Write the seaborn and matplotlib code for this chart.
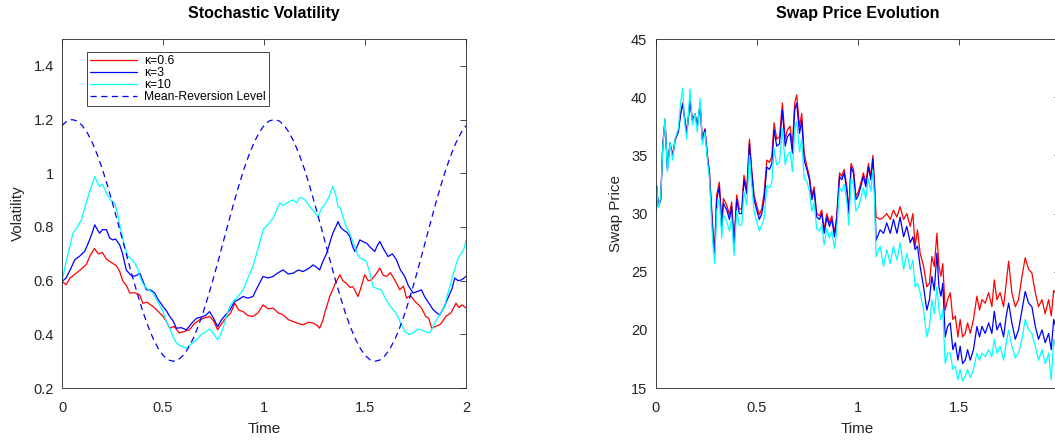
import matplotlib
matplotlib.use("Agg")
import matplotlib.pyplot as plt
import seaborn as sns
from matplotlib.ticker import FuncFormatter

# ---------------- data: left panel (Stochastic Volatility) ----------------
T_RED = [0, 0.02, 0.04, 0.07, 0.09, 0.12, 0.14, 0.16, 0.18, 0.2, 0.22, 0.25, 0.27, 0.285, 0.30, 0.32, 0.335, 0.36,
         0.385, 0.40, 0.42, 0.45, 0.47, 0.5, 0.515, 0.533, 0.555, 0.58, 0.60, 0.63, 0.655, 0.68, 0.70, 0.73, 0.75,
         0.77, 0.79, 0.81, 0.835, 0.855, 0.875, 0.896, 0.92, 0.945, 0.97, 0.995, 1.02, 1.045, 1.07, 1.094, 1.12,
         1.144, 1.17, 1.193, 1.22, 1.243, 1.26, 1.275, 1.29, 1.30, 1.325, 1.35, 1.375, 1.39, 1.408, 1.425, 1.44,
         1.465, 1.48, 1.498, 1.515, 1.531, 1.55, 1.573, 1.59, 1.606, 1.625, 1.647, 1.672, 1.69, 1.705, 1.725, 1.746,
         1.765, 1.779, 1.80, 1.815, 1.83, 1.85, 1.87, 1.885, 1.90, 1.925, 1.95, 1.965, 1.98, 2.0]
V_RED = [0.597, 0.585, 0.61, 0.628, 0.64, 0.66, 0.695, 0.72, 0.70, 0.705, 0.68, 0.665, 0.655, 0.635, 0.60, 0.58, 0.554,
         0.555, 0.547, 0.516, 0.52, 0.504, 0.49, 0.467, 0.45, 0.423, 0.43, 0.405, 0.41, 0.417, 0.44, 0.454, 0.46,
         0.467, 0.45, 0.417, 0.44, 0.46, 0.48, 0.516, 0.49, 0.485, 0.47, 0.467, 0.48, 0.51, 0.495, 0.498, 0.48,
         0.473, 0.455, 0.448, 0.44, 0.436, 0.445, 0.442, 0.435, 0.423, 0.45, 0.479, 0.541, 0.585, 0.622, 0.60, 0.59,
         0.575, 0.578, 0.541, 0.575, 0.622, 0.60, 0.603, 0.62, 0.647, 0.62, 0.616, 0.63, 0.603, 0.566, 0.58, 0.535,
         0.545, 0.523, 0.51, 0.498, 0.467, 0.46, 0.423, 0.43, 0.436, 0.45, 0.467, 0.48, 0.516, 0.50, 0.51, 0.498]

T_BLUE = [0, 0.02, 0.04, 0.063, 0.085, 0.112, 0.13, 0.15, 0.162, 0.175, 0.186, 0.2, 0.22, 0.235, 0.25, 0.265, 0.285,
          0.30, 0.318, 0.335, 0.35, 0.37, 0.385, 0.40, 0.417, 0.44, 0.459, 0.475, 0.5, 0.515, 0.533, 0.55, 0.566,
          0.59, 0.616, 0.64, 0.665, 0.69, 0.71, 0.73, 0.75, 0.77, 0.79, 0.81, 0.83, 0.855, 0.875, 0.896, 0.92, 0.945,
          0.97, 0.995, 1.02, 1.045, 1.07, 1.094, 1.12, 1.144, 1.17, 1.193, 1.22, 1.243, 1.26, 1.275, 1.29, 1.31,
          1.325, 1.34, 1.355, 1.366, 1.378, 1.39, 1.41, 1.424, 1.437, 1.449, 1.462, 1.474, 1.49, 1.507, 1.525, 1.548,
          1.56, 1.573, 1.59, 1.614, 1.635, 1.655, 1.675, 1.696, 1.715, 1.738, 1.76, 1.779, 1.795, 1.81, 1.837, 1.855,
          1.87, 1.89, 1.91, 1.93, 1.944, 1.96, 1.977, 2.0]
V_BLUE = [0.597, 0.61, 0.64, 0.678, 0.69, 0.709, 0.74, 0.78, 0.808, 0.79, 0.777, 0.79, 0.79, 0.76, 0.752, 0.755,
          0.734, 0.70, 0.64, 0.625, 0.616, 0.62, 0.628, 0.60, 0.566, 0.565, 0.554, 0.53, 0.504, 0.49, 0.467, 0.45,
          0.423, 0.425, 0.417, 0.44, 0.46, 0.465, 0.47, 0.485, 0.46, 0.429, 0.455, 0.473, 0.49, 0.523, 0.53, 0.541,
          0.535, 0.541, 0.58, 0.616, 0.61, 0.616, 0.63, 0.64, 0.625, 0.628, 0.64, 0.634, 0.645, 0.659, 0.65, 0.64,
          0.67, 0.702, 0.74, 0.777, 0.80, 0.82, 0.80, 0.79, 0.78, 0.765, 0.73, 0.709, 0.73, 0.752, 0.745, 0.74, 0.725,
          0.709, 0.73, 0.746, 0.72, 0.69, 0.70, 0.678, 0.64, 0.616, 0.58, 0.554, 0.56, 0.566, 0.54, 0.523, 0.492,
          0.48, 0.473, 0.50, 0.535, 0.57, 0.61, 0.60, 0.603, 0.616]

T_CYAN = [0, 0.015, 0.03, 0.054, 0.075, 0.096, 0.112, 0.129, 0.145, 0.162, 0.175, 0.186, 0.2, 0.22, 0.24, 0.26,
          0.275, 0.294, 0.31, 0.327, 0.345, 0.36, 0.375, 0.385, 0.40, 0.41, 0.43, 0.45, 0.475, 0.5, 0.515, 0.533,
          0.55, 0.566, 0.59, 0.616, 0.64, 0.665, 0.69, 0.714, 0.73, 0.748, 0.77, 0.785, 0.797, 0.815, 0.83, 0.845,
          0.863, 0.88, 0.896, 0.92, 0.945, 0.97, 0.995, 1.02, 1.045, 1.06, 1.078, 1.094, 1.11, 1.127, 1.144, 1.16,
          1.177, 1.193, 1.21, 1.226, 1.245, 1.267, 1.285, 1.30, 1.32, 1.34, 1.355, 1.366, 1.378, 1.39, 1.407, 1.424,
          1.437, 1.449, 1.462, 1.474, 1.49, 1.507, 1.523, 1.54, 1.56, 1.58, 1.597, 1.614, 1.63, 1.647, 1.66, 1.672,
          1.685, 1.696, 1.718, 1.738, 1.76, 1.779, 1.80, 1.82, 1.838, 1.853, 1.875, 1.894, 1.905, 1.919, 1.935,
          1.952, 1.965, 1.977, 1.99, 2.0]
V_CYAN = [0.597, 0.653, 0.70, 0.777, 0.80, 0.827, 0.87, 0.914, 0.95, 0.988, 0.965, 0.951, 0.96, 0.926, 0.90, 0.889,
          0.85, 0.777, 0.73, 0.69, 0.68, 0.665, 0.645, 0.616, 0.59, 0.578, 0.565, 0.554, 0.52, 0.485, 0.45, 0.423,
          0.39, 0.368, 0.355, 0.349, 0.365, 0.38, 0.40, 0.411, 0.42, 0.405, 0.38, 0.40, 0.423, 0.47, 0.504, 0.52,
          0.535, 0.55, 0.566, 0.61, 0.653, 0.72, 0.79, 0.81, 0.833, 0.86, 0.889, 0.88, 0.889, 0.895, 0.901, 0.89,
          0.91, 0.907, 0.895, 0.876, 0.86, 0.839, 0.87, 0.883, 0.91, 0.951, 0.92, 0.876, 0.87, 0.839, 0.80, 0.777,
          0.75, 0.727, 0.70, 0.684, 0.68, 0.672, 0.63, 0.578, 0.57, 0.566, 0.54, 0.516, 0.50, 0.485, 0.47, 0.448,
          0.43, 0.411, 0.40, 0.405, 0.42, 0.417, 0.41, 0.405, 0.43, 0.454, 0.48, 0.504, 0.54, 0.578, 0.62, 0.665,
          0.69, 0.702, 0.72, 0.752]

T_LEVEL = [0.0, 0.025, 0.05, 0.075, 0.1, 0.125, 0.15, 0.175, 0.2, 0.225, 0.25, 0.275, 0.3, 0.325, 0.35, 0.375,
           0.4, 0.425, 0.45, 0.475, 0.5, 0.525, 0.55, 0.575, 0.6, 0.625, 0.65, 0.675, 0.7, 0.725, 0.75, 0.775,
           0.8, 0.825, 0.85, 0.875, 0.9, 0.925, 0.95, 0.975, 1.0, 1.025, 1.05, 1.075, 1.1, 1.125, 1.15, 1.175,
           1.2, 1.225, 1.25, 1.275, 1.3, 1.325, 1.35, 1.375, 1.4, 1.425, 1.45, 1.475, 1.5, 1.525, 1.55, 1.575,
           1.6, 1.625, 1.65, 1.675, 1.7, 1.725, 1.75, 1.775, 1.8, 1.825, 1.85, 1.875, 1.9, 1.925, 1.95, 1.975, 2.0]
V_LEVEL = [1.178, 1.195, 1.2, 1.195, 1.178, 1.151, 1.114, 1.068, 1.015, 0.954, 0.889, 0.820, 0.75, 0.680, 0.611,
           0.546, 0.485, 0.432, 0.386, 0.349, 0.322, 0.305, 0.30, 0.305, 0.322, 0.349, 0.386, 0.432, 0.485, 0.546,
           0.611, 0.680, 0.75, 0.820, 0.889, 0.954, 1.015, 1.068, 1.114, 1.151,
           1.178, 1.195, 1.2, 1.195, 1.178, 1.151, 1.114, 1.068, 1.015, 0.954, 0.889, 0.820, 0.75, 0.680, 0.611,
           0.546, 0.485, 0.432, 0.386, 0.349, 0.322, 0.305, 0.30, 0.305, 0.322, 0.349, 0.386, 0.432, 0.485, 0.546,
           0.611, 0.680, 0.75, 0.820, 0.889, 0.954, 1.015, 1.068, 1.114, 1.151, 1.178]

VOL_LABELS = ["\u03ba=0.6", "\u03ba=3", "\u03ba=10", "Mean-Reversion Level"]

# ---------------- data: right panel (Swap Price Evolution) ----------------
T_SWAP = [0.000, 0.005, 0.013, 0.025, 0.035, 0.046, 0.058, 0.071, 0.084, 0.096, 0.112, 0.124, 0.134, 0.142, 0.154,
          0.170, 0.182, 0.195, 0.206, 0.220, 0.231, 0.244, 0.256, 0.266, 0.277, 0.286, 0.292, 0.302, 0.315, 0.327,
          0.335, 0.352, 0.365, 0.376, 0.388, 0.401, 0.414, 0.426, 0.437, 0.451, 0.464, 0.475, 0.487, 0.500, 0.513,
          0.525, 0.537, 0.550, 0.563, 0.575, 0.586, 0.599, 0.613, 0.627, 0.641, 0.652, 0.665, 0.677, 0.688, 0.698,
          0.712, 0.723, 0.735, 0.748, 0.761, 0.773, 0.784, 0.797, 0.811, 0.822, 0.834, 0.847, 0.860, 0.872, 0.885,
          0.896, 0.910, 0.921, 0.933, 0.946, 0.956, 0.967, 0.979, 0.991, 1.002, 1.015, 1.028, 1.040, 1.053, 1.065,
          1.075, 1.083,
          1.091, 1.111, 1.128, 1.144, 1.161, 1.177, 1.194, 1.210, 1.227, 1.243, 1.260, 1.273, 1.284, 1.296, 1.309,
          1.326, 1.342, 1.355, 1.367, 1.379, 1.392, 1.402, 1.412, 1.421, 1.433, 1.445, 1.458, 1.471, 1.483, 1.496,
          1.507, 1.519, 1.532, 1.544, 1.557, 1.573, 1.590, 1.603, 1.615, 1.631, 1.648, 1.664, 1.676, 1.689, 1.705,
          1.722, 1.735, 1.747, 1.763, 1.780, 1.796, 1.813, 1.829, 1.846, 1.862, 1.879, 1.895, 1.912, 1.928, 1.945,
          1.958, 1.970, 1.978, 2.0]
SWAP_RED = [30.1, 32.4, 30.7, 31.3, 35.9, 38.1, 33.9, 36.1, 35.0, 36.4, 37.1, 38.7, 39.5, 38.4, 37.0, 39.7, 38.1,
            38.6, 37.6, 39.4, 36.4, 37.3, 35.0, 33.6,
            30.4, 27.9, 27.0, 31.6, 32.7, 29.3, 31.3, 30.7, 29.9, 31.0, 27.6, 31.6, 30.4, 30.4, 33.3, 32.1, 36.4,
            33.9, 31.6, 30.7, 29.9, 30.4,
            31.8, 34.6, 34.4, 34.9, 37.8, 36.4, 36.6, 39.5, 36.4, 37.2, 37.5, 35.8, 39.5, 40.2, 37.5, 38.6, 35.2,
            34.1, 33.2, 31.5, 32.3, 30.0, 29.8, 30.3, 28.6, 30.0, 29.2, 29.8, 28.3, 29.8, 33.5, 33.2, 33.8, 32.3,
            30.3, 34.3, 33.8, 31.5, 31.8, 32.6, 33.5, 32.6, 34.3, 33.2, 35.0, 32.6,
            29.7, 29.5, 29.7, 30.0, 29.5, 30.3, 29.7, 30.6, 29.5, 30.0, 28.9, 30.0, 27.2, 28.6, 26.6, 25.45, 23.7,
            24.0, 26.3, 25.45, 28.3, 25.45, 24.6, 25.7, 21.7, 22.6, 23.2, 20.9, 21.2, 19.4, 20.9, 19.4, 19.7, 20.6,
            19.7, 20.9, 22.9, 21.7, 22.6, 22.3, 23.2, 22.0, 24.3, 22.6, 23.2, 22.0, 24.0, 25.9, 23.2, 22.0, 22.6,
            24.6, 26.2, 25.2, 24.9, 23.2, 22.0, 22.6, 21.4, 22.6, 21.2, 23.4, 23.2, 23.0]
SWAP_BLUE = [30.0, 32.3, 30.6, 31.2, 35.8, 38.0, 33.8, 36.0, 34.9, 36.3, 37.0, 38.6, 39.4, 38.3, 36.9, 39.6, 38.0,
             38.5, 37.5, 39.3, 36.3, 37.2, 34.9, 33.5,
             30.0, 27.5, 26.6, 31.2, 32.3, 28.9, 30.9, 30.3, 29.5, 30.6, 27.2, 31.2, 30.0, 30.0, 32.9, 31.7, 36.0,
             33.5, 31.2, 30.3, 29.5, 30.0,
             31.2, 34.0, 33.8, 34.3, 37.2, 35.8, 36.0, 38.9, 35.8, 36.6, 36.9, 35.2, 38.9, 39.5, 36.9, 38.0, 34.6,
             33.8, 32.9, 31.2, 32.0, 29.7, 29.5, 30.0, 28.3, 29.7, 28.9, 29.5, 28.0, 29.5, 33.2, 32.9, 33.5, 32.0,
             30.0, 34.0, 33.5, 31.2, 31.5, 32.3, 33.2, 32.3, 34.0, 32.9, 34.75, 32.3,
             27.7, 28.6, 28.3, 29.2, 28.3, 29.5, 28.3, 29.7, 28.0, 28.9, 27.5, 28.0, 26.9, 27.2, 25.45, 23.7, 21.7,
             22.6, 24.6, 23.4, 26.6, 23.7, 22.9, 24.0, 19.4, 20.3, 20.6, 18.3, 18.9, 17.4, 18.6, 17.1, 17.4, 18.3,
             17.4, 18.3, 20.3, 19.4, 20.3, 19.7, 20.6, 19.7, 21.6, 20.0, 20.6, 19.4, 21.2, 22.3, 20.6, 19.2, 20.0,
             21.7, 23.3, 22.3, 22.0, 20.3, 19.2, 20.0, 18.9, 19.7, 18.3, 20.9, 20.4, 20.5]
SWAP_CYAN = [30.0, 32.4, 30.5, 31.4, 35.6, 38.2, 33.6, 36.1, 34.6, 36.4, 37.3, 39.6, 40.8, 38.0, 36.4, 40.7, 37.6,
             38.6, 37.0, 39.9, 35.9, 37.0, 34.6, 33.0,
             29.2, 26.7, 25.7, 30.2, 31.3, 27.9, 29.9, 29.3, 28.5, 29.6, 26.4, 30.2, 29.0, 29.0, 31.9, 30.7, 35.0,
             32.5, 30.2, 29.3, 28.5, 29.0,
             29.6, 32.4, 32.2, 32.7, 35.6, 34.2, 34.4, 37.3, 34.2, 35.0, 35.3, 33.6, 37.3, 37.9, 35.3, 36.4, 33.0,
             32.8, 31.9, 30.2, 31.0, 28.7, 28.5, 29.0, 27.3, 28.7, 27.9, 28.5, 27.0, 28.5, 32.2, 31.9, 32.5, 31.0,
             29.0, 33.0, 32.5, 30.2, 30.5, 31.3, 32.2, 31.3, 33.0, 31.9, 33.75, 31.3,
             26.3, 27.2, 25.45, 26.9, 25.7, 27.2, 26.0, 27.5, 25.2, 26.6, 25.2, 26.0, 23.7, 24.0, 23.2, 21.7, 19.4,
             20.3, 22.6, 21.4, 23.7, 21.7, 20.9, 21.7, 17.1, 18.0, 18.0, 16.6, 16.9, 15.7, 16.6, 15.6, 16.0, 16.6,
             15.9, 16.6, 18.0, 17.4, 18.0, 17.7, 18.3, 17.7, 19.2, 18.0, 18.6, 17.4, 18.9, 20.0, 18.6, 17.6, 18.0,
             19.2, 20.9, 20.0, 19.7, 18.6, 17.4, 18.3, 17.1, 18.0, 15.7, 19.2, 18.6, 18.8]

X_TICKS = [0, 0.5, 1, 1.5, 2]
VOL_TICKS = [0.2, 0.4, 0.6, 0.8, 1.0, 1.2, 1.4]
SWAP_TICKS = [15, 20, 25, 30, 35, 40, 45]

# ---------------- style ----------------
sns.set_theme(style="white")
plt.rcParams["font.family"] = ["Liberation Sans", "DejaVu Sans"]
plt.rcParams["axes.edgecolor"] = "#262626"
plt.rcParams["axes.linewidth"] = 0.6
plt.rcParams["xtick.color"] = "#262626"
plt.rcParams["ytick.color"] = "#262626"

C_RED, C_BLUE, C_CYAN = (1, 0, 0), (0, 0, 1), (0, 1, 1)
TXT = "#262626"

fig = plt.figure(figsize=(10.55, 4.41), dpi=100, facecolor="white")
ax1 = fig.add_axes([0.0588, 0.120, 0.383, 0.7914])
ax2 = fig.add_axes([0.6215, 0.120, 0.383, 0.7914])

LW = 0.9
sns.lineplot(x=T_RED, y=V_RED, color=C_RED, linewidth=LW, ax=ax1, sort=False, estimator=None, label=VOL_LABELS[0])
sns.lineplot(x=T_BLUE, y=V_BLUE, color=C_BLUE, linewidth=LW, ax=ax1, sort=False, estimator=None, label=VOL_LABELS[1])
sns.lineplot(x=T_CYAN, y=V_CYAN, color=C_CYAN, linewidth=LW, ax=ax1, sort=False, estimator=None, label=VOL_LABELS[2])
sns.lineplot(x=T_LEVEL, y=V_LEVEL, color=C_BLUE, linewidth=LW, ax=ax1, sort=False, estimator=None,
             label=VOL_LABELS[3], linestyle=(0, (5, 3.5)))

sns.lineplot(x=T_SWAP, y=SWAP_RED, color=C_RED, linewidth=LW, ax=ax2, sort=False, estimator=None)
sns.lineplot(x=T_SWAP, y=SWAP_BLUE, color=C_BLUE, linewidth=LW, ax=ax2, sort=False, estimator=None)
sns.lineplot(x=T_SWAP, y=SWAP_CYAN, color=C_CYAN, linewidth=LW, ax=ax2, sort=False, estimator=None)

fmt = FuncFormatter(lambda v, p: "{:g}".format(round(v, 6)))
for ax, ylim, yticks, title, ylabel in [
        (ax1, (0.2, 1.5), VOL_TICKS, "Stochastic Volatility", "Volatility"),
        (ax2, (15, 45), SWAP_TICKS, "Swap Price Evolution", "Swap Price")]:
    ax.set_xlim(0, 2)
    ax.set_ylim(*ylim)
    ax.set_xticks(X_TICKS)
    ax.set_yticks(yticks)
    ax.xaxis.set_major_formatter(fmt)
    ax.yaxis.set_major_formatter(fmt)
    ax.tick_params(which="both", direction="in", top=True, right=True, length=4, width=0.6,
                   labelsize=10.5, labelcolor=TXT)
    ax.tick_params(axis="x", pad=9)
    ax.tick_params(axis="y", pad=6)
    for s in ax.spines.values():
        s.set_visible(True)
        s.set_color("#262626")
        s.set_linewidth(0.6)
    ax.set_title(title, fontsize=11.5, fontweight="bold", color="black", pad=15)
    ax.set_xlabel("Time", fontsize=11, color=TXT, labelpad=5)
    ax.set_ylabel(ylabel, fontsize=11, color=TXT, labelpad=6)
    ax.grid(False)

leg = ax1.legend(loc="upper left", bbox_to_anchor=(0.061, 0.962), fontsize=8.7, frameon=True, fancybox=False,
                 framealpha=1, edgecolor="#262626", handlelength=3.9, handletextpad=0.6, labelspacing=0.0,
                 borderpad=0.25, borderaxespad=0)
leg.get_frame().set_linewidth(0.6)
for t in leg.get_texts():
    t.set_color("black")

fig.savefig("out.png", dpi=100, facecolor="white")
